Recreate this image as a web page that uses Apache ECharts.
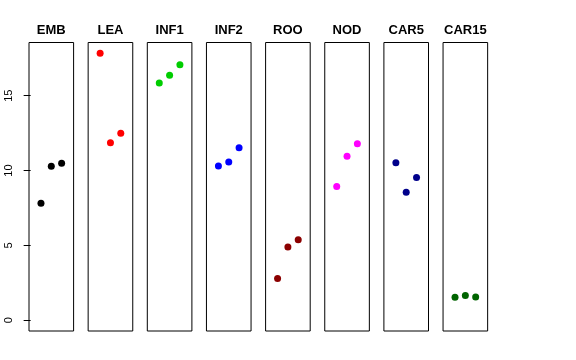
<!DOCTYPE html>
<html>
<head>
<meta charset="utf-8">
<script src="https://cdn.jsdelivr.net/npm/echarts@6/dist/echarts.min.js"></script>
<style>html,body{margin:0;padding:0;background:#fff}#c{width:576px;height:360px}</style>
</head>
<body>
<div id="c"></div>
<script>
const categories = ['EMB','LEA','INF1','INF2','ROO','NOD','CAR5','CAR15'];
const emb  = [7.81, 10.29, 10.49];
const lea  = [17.84, 11.86, 12.50];
const inf1 = [15.85, 16.37, 17.06];
const inf2 = [10.31, 10.58, 11.52];
const roo  = [2.79, 4.89, 5.38];
const nod  = [8.93, 10.96, 11.79];
const car5 = [10.52, 8.55, 9.53];
const car15 = [1.54, 1.65, 1.56];
const groupValues = [emb, lea, inf1, inf2, roo, nod, car5, car15];
const yTicks = [0, 5, 10, 15];
const colors = ['#000000','#FF0000','#00CD00','#0000FF','#8B0000','#FF00FF','#00008B','#006400'];

const yMin = -0.714, yMax = 18.554;
const grids = [], xAxes = [], yAxes = [], series = [];
categories.forEach((cat, i) => {
  grids.push({
    left: 29 + i * 59.15, width: 44.6, top: 42.5, height: 288.5,
    show: true, borderColor: '#000', borderWidth: 1, backgroundColor: 'transparent'
  });
  xAxes.push({
    gridIndex: i, type: 'value', min: -0.16, max: 4.16, position: 'top',
    name: cat, nameLocation: 'middle', nameGap: 6,
    nameTextStyle: { fontFamily: 'Liberation Sans', fontWeight: 'bold', fontSize: 13, color: '#000' },
    axisLine: { show: false }, axisTick: { show: false }, axisLabel: { show: false }, splitLine: { show: false }
  });
  yAxes.push({
    gridIndex: i, type: 'value', min: yMin, max: yMax,
    axisLine: { show: false },
    axisTick: i === 0 ? { show: true, length: 7, lineStyle: { color: '#000' }, customValues: yTicks } : { show: false },
    axisLabel: i === 0 ? { show: true, rotate: 90, margin: 15, fontFamily: 'Liberation Sans', fontSize: 11, color: '#000', customValues: yTicks } : { show: false },
    splitLine: { show: false }
  });
  series.push({
    type: 'scatter', xAxisIndex: i, yAxisIndex: i,
    data: groupValues[i].map((v, k) => [k + 1, v]),
    symbolSize: 7, itemStyle: { color: colors[i], opacity: 1 },
    animation: false
  });
});

const chart = echarts.init(document.getElementById('c'), null, { renderer: 'canvas' });
chart.setOption({
  backgroundColor: '#fff',
  animation: false,
  grid: grids, xAxis: xAxes, yAxis: yAxes, series: series
});
</script>
</body>
</html>
